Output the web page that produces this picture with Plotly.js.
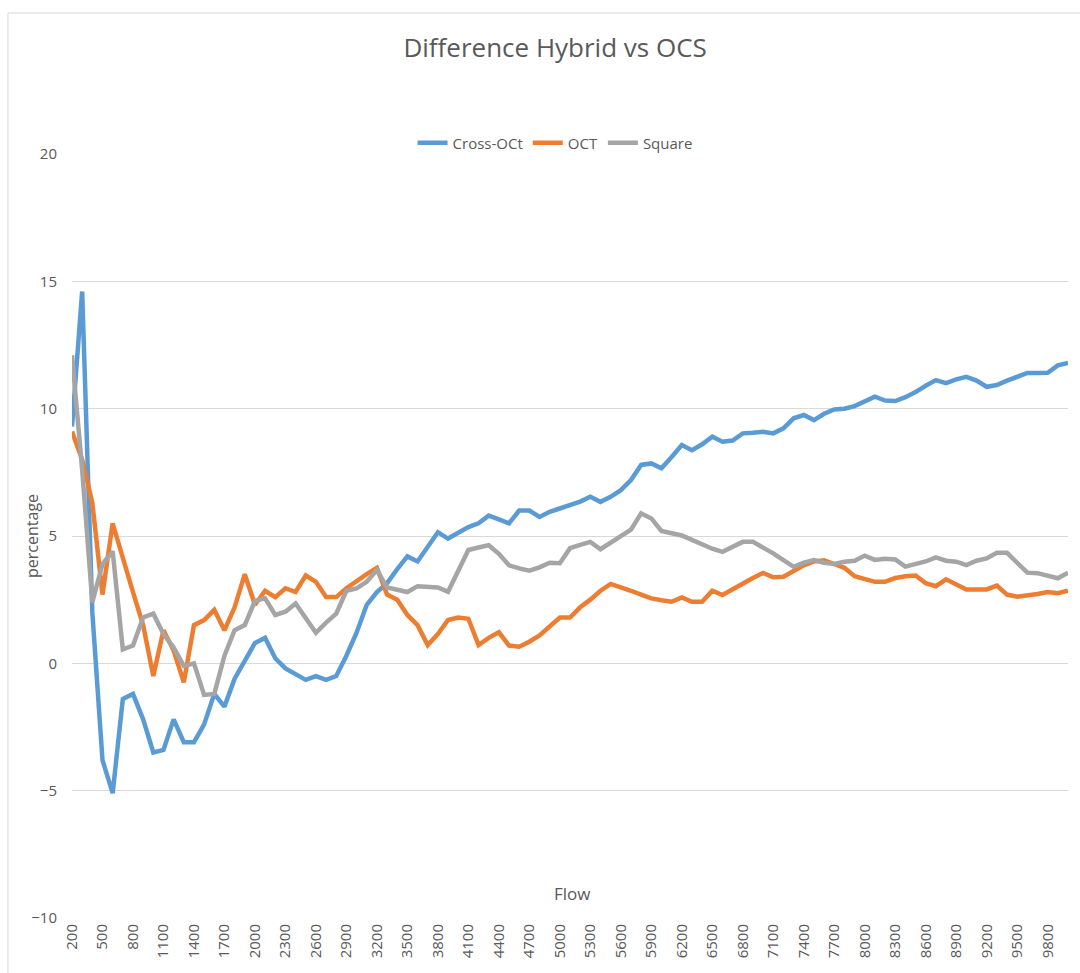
<!DOCTYPE html>
<html>
<head>
<meta charset="utf-8">
<script src="https://cdn.plot.ly/plotly-3.0.1.min.js"></script>
<style>html,body{margin:0;padding:0;background:#fff;}#chart{width:1080px;height:973px;}</style>
</head>
<body>
<div id="chart"></div>
<script>
var flows = ["200","300","400","500","600","700","800","900","1000","1100",
"1200","1300","1400","1500","1600","1700","1800","1900","2000","2100",
"2200","2300","2400","2500","2600","2700","2800","2900","3000","3100",
"3200","3300","3400","3500","3600","3700","3800","3900","4000","4100",
"4200","4300","4400","4500","4600","4700","4800","4900","5000","5100",
"5200","5300","5400","5500","5600","5700","5800","5900","6000","6100",
"6200","6300","6400","6500","6600","6700","6800","6900","7000","7100",
"7200","7300","7400","7500","7600","7700","7800","7900","8000","8100",
"8200","8300","8400","8500","8600","8700","8800","8900","9000","9100",
"9200","9300","9400","9500","9600","9700","9800","9900","10000"];

var crossOct = [9.3,14.6,2.0,-3.8,-5.1,-1.4,-1.2,-2.2,-3.5,-3.4,
-2.2,-3.1,-3.1,-2.4,-1.2,-1.7,-0.6,0.1,0.8,1.0,
0.2,-0.2,-0.45,-0.65,-0.5,-0.65,-0.5,0.3,1.2,2.3,
2.8,3.15,3.7,4.2,4.0,4.6,5.15,4.9,5.1,5.35,
5.5,5.8,5.65,5.5,6.0,6.0,5.75,5.95,6.08,6.2,
6.35,6.54,6.34,6.54,6.8,7.2,7.79,7.85,7.66,8.1,
8.57,8.37,8.6,8.9,8.7,8.75,9.03,9.05,9.09,9.03,
9.23,9.62,9.75,9.55,9.8,9.97,10.0,10.1,10.3,10.47,
10.32,10.3,10.45,10.65,10.9,11.12,11.0,11.15,11.25,11.1,
10.86,10.93,11.1,11.25,11.4,11.4,11.41,11.7,11.8];

var oct = [9.1,8.0,6.3,2.7,5.5,4.1,2.8,1.5,-0.5,1.3,
0.5,-0.75,1.5,1.7,2.1,1.3,2.2,3.5,2.3,2.85,
2.6,2.95,2.8,3.45,3.2,2.6,2.6,2.95,3.25,3.5,
3.75,2.7,2.5,1.9,1.5,0.72,1.15,1.7,1.8,1.75,
0.72,1.0,1.22,0.7,0.65,0.85,1.1,1.45,1.8,1.8,
2.2,2.5,2.85,3.12,3.0,2.85,2.7,2.55,2.48,2.42,
2.59,2.42,2.42,2.85,2.68,2.92,3.12,3.35,3.55,3.38,
3.4,3.6,3.85,4.0,4.05,3.9,3.75,3.42,3.33,3.2,
3.2,3.35,3.42,3.45,3.15,3.03,3.3,3.12,2.9,2.9,
2.9,3.05,2.7,2.62,2.65,2.72,2.8,2.75,2.85];

var square = [12.1,7.6,2.4,3.9,4.4,0.55,0.7,1.8,1.95,1.15,
0.62,-0.1,0.0,-1.24,-1.2,0.3,1.3,1.5,2.45,2.55,
1.9,2.03,2.35,1.75,1.2,1.6,1.95,2.85,2.94,3.2,
3.66,2.98,2.9,2.8,3.03,3.0,2.98,2.81,3.66,4.45,
4.55,4.64,4.3,3.85,3.73,3.64,3.77,3.95,3.93,4.52,
4.65,4.77,4.48,4.72,4.97,5.25,5.89,5.69,5.2,5.1,
5.02,4.85,4.68,4.5,4.38,4.58,4.77,4.77,4.55,4.32,
4.05,3.79,3.95,4.05,3.95,3.9,3.99,4.03,4.23,4.06,
4.11,4.08,3.8,3.88,4.0,4.16,4.03,3.99,3.86,4.03,
4.12,4.34,4.34,3.95,3.56,3.54,3.45,3.34,3.56];

var tickFlows = ["200","500","800","1100","1400","1700","2000","2300","2600","2900",
"3200","3500","3800","4100","4400","4700","5000","5300","5600","5900",
"6200","6500","6800","7100","7400","7700","8000","8300","8600","8900",
"9200","9500","9800"];

var FONT = "Open Sans, sans-serif";
var TXT = "#595959";

var traces = [
  {x: flows, y: crossOct, name: "Cross-OCt", type: "scatter", mode: "lines",
   line: {color: "#5B9BD5", width: 4.5}},
  {x: flows, y: oct, name: "OCT", type: "scatter", mode: "lines",
   line: {color: "#ED7D31", width: 4.5}},
  {x: flows, y: square, name: "Square", type: "scatter", mode: "lines",
   line: {color: "#A5A5A5", width: 4.5}}
];

var layout = {
  width: 1080, height: 973,
  paper_bgcolor: "#ffffff", plot_bgcolor: "#ffffff",
  margin: {l: 72, r: 12, t: 154, b: 55, pad: 0},
  font: {family: FONT, color: TXT, size: 14},
  title: {text: "Difference Hybrid vs OCS", x: 0.514, xanchor: "center",
          y: 0.951, yanchor: "middle", font: {family: FONT, size: 26, color: TXT}},
  showlegend: true,
  legend: {orientation: "h", x: 0.485, xanchor: "center", y: 1.0144, yanchor: "middle",
           font: {family: FONT, size: 15, color: TXT}, bgcolor: "rgba(0,0,0,0)",
           itemwidth: 30, tracegroupgap: 0},
  xaxis: {type: "category", range: [0, flows.length - 1], tickmode: "array",
          tickvals: tickFlows, ticktext: tickFlows, tickangle: -90,
          tickfont: {family: FONT, size: 15, color: TXT},
          showgrid: false, zeroline: false, showline: false, ticks: "",
          automargin: false, ticklabelstandoff: 2, fixedrange: true},
  yaxis: {range: [-10, 20], dtick: 5, tick0: 0, showgrid: true, gridcolor: "#D9D9D9",
          gridwidth: 1, zeroline: false, showline: false, ticks: "",
          tickfont: {family: FONT, size: 15, color: TXT}, ticklabelstandoff: 14,
          automargin: false, fixedrange: true},
  annotations: [
    {text: "Flow", xref: "paper", yref: "paper", x: 0.502, y: 0.0327,
     xanchor: "center", yanchor: "middle", showarrow: false,
     font: {family: FONT, size: 17, color: TXT}},
    {text: "percentage", xref: "paper", yref: "paper", x: -0.0402, y: 0.5,
     xanchor: "center", yanchor: "middle", textangle: -90, showarrow: false,
     font: {family: FONT, size: 16, color: TXT}}
  ],
  shapes: [
    {type: "line", xref: "paper", yref: "paper", x0: -0.0643, x1: -0.0643, y0: 1.1846, y1: -0.2,
     line: {color: "#D9D9D9", width: 1}},
    {type: "line", xref: "paper", yref: "paper", x0: -0.0643, x1: 1.05, y0: 1.1846, y1: 1.1846,
     line: {color: "#D9D9D9", width: 1}}
  ]
};

Plotly.newPlot("chart", traces, layout, {displayModeBar: false, staticPlot: true});
</script>
</body>
</html>
